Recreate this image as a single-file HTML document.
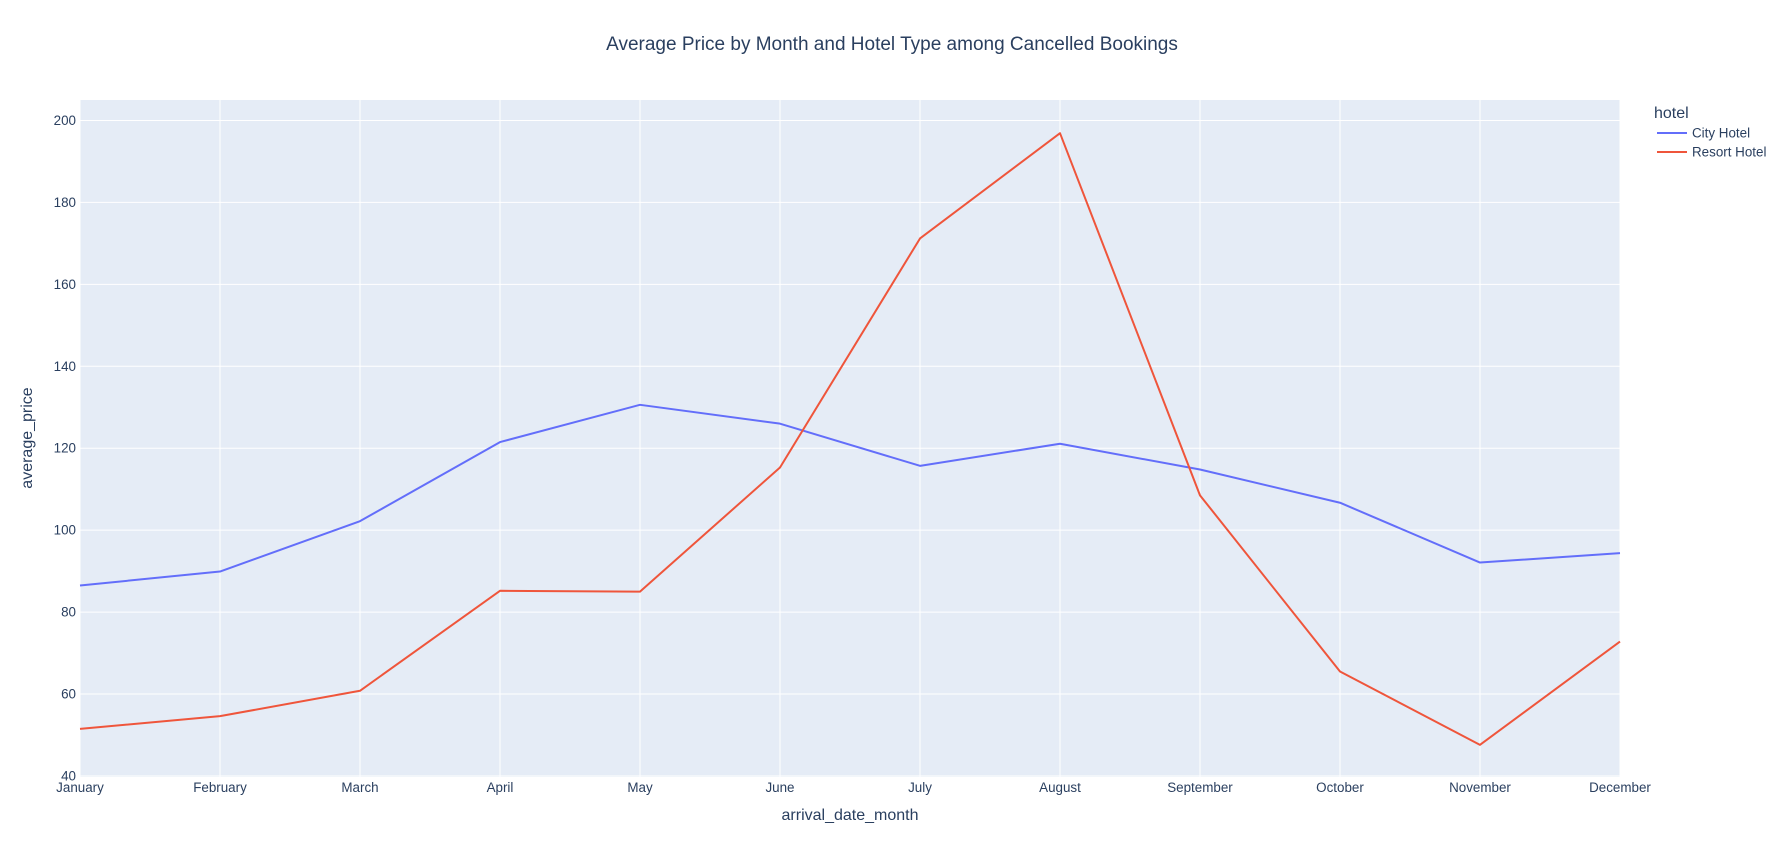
<!DOCTYPE html>
<html><head><meta charset="utf-8"><style>
body{margin:0;background:#fff;font-family:"Liberation Sans",sans-serif}
svg text{font-family:"Liberation Sans",sans-serif;fill:#2a3f5f}
</style></head><body>
<svg id="c" width="1784" height="859"></svg>
<script>
const months=["January","February","March","April","May","June","July","August","September","October","November","December"];
const cityHotel=[86.5,89.9,102.2,121.5,130.6,126.0,115.7,121.1,114.8,106.7,92.1,94.4];
const resortHotel=[51.5,54.6,60.8,85.2,85.0,115.3,171.2,196.9,108.5,65.5,47.6,72.8];
const yTicks=[40,60,80,100,120,140,160,180,200];
const L=80,R=1620,T=100,B=777,yMin=39.75,yMax=205;
const NS="http://www.w3.org/2000/svg";
const svg=document.getElementById('c');
function x(i){return L+(R-L)*i/(months.length-1);}
function y(v){return B-(v-yMin)/(yMax-yMin)*(B-T);}
function el(t,a,p){const e=document.createElementNS(NS,t);for(const k in a)e.setAttribute(k,a[k]);(p||svg).appendChild(e);return e;}
const bg=el('rect',{x:L,y:T,width:R-L,height:B-T,fill:'#e5ecf6'});


months.forEach((m,i)=>{
  const g=el('line',{x1:x(i),x2:x(i),y1:T,y2:B,stroke:'#fff','stroke-width':1});
  
  
  const t=el('text',{x:x(i),y:792,'text-anchor':'middle','font-size':13.4});
  t.textContent=m;
  
  
});
yTicks.forEach(v=>{
  const g=el('line',{x1:L,x2:R,y1:y(v),y2:y(v),stroke:'#fff','stroke-width':1});
  
  
  const t=el('text',{x:L-4,y:y(v)+4.5,'text-anchor':'end','font-size':13.4});
  t.textContent=v;
  
  
});
function series(d,c,n){
  const p=el('polyline',{points:d.map((v,i)=>x(i)+','+y(v)).join(' '),fill:'none',stroke:c,'stroke-width':2,'stroke-linejoin':'round'});
  
  
}
series(cityHotel,'#636efa','city-hotel-line');
series(resortHotel,'#ef553b','resort-hotel-line');
</script>
<svg width="1784" height="859" style="position:absolute;left:0;top:0">
<text x="892" y="50" text-anchor="middle" font-size="19">Average Price by Month and Hotel Type among Cancelled Bookings</text>
<text x="850" y="820" text-anchor="middle" font-size="16">arrival_date_month</text>
<text x="0" y="0" transform="translate(32,438) rotate(-90)" text-anchor="middle" font-size="16">average_price</text>
<text x="1654" y="118" font-size="16">hotel</text>
<g><line x1="1657" x2="1687" y1="133" y2="133" stroke="#636efa" stroke-width="2"/><text x="1692" y="137.5" font-size="13.4">City Hotel</text></g>
<g><line x1="1657" x2="1687" y1="152" y2="152" stroke="#ef553b" stroke-width="2"/><text x="1692" y="156.5" font-size="13.4">Resort Hotel</text></g>
</svg>
</body></html>
